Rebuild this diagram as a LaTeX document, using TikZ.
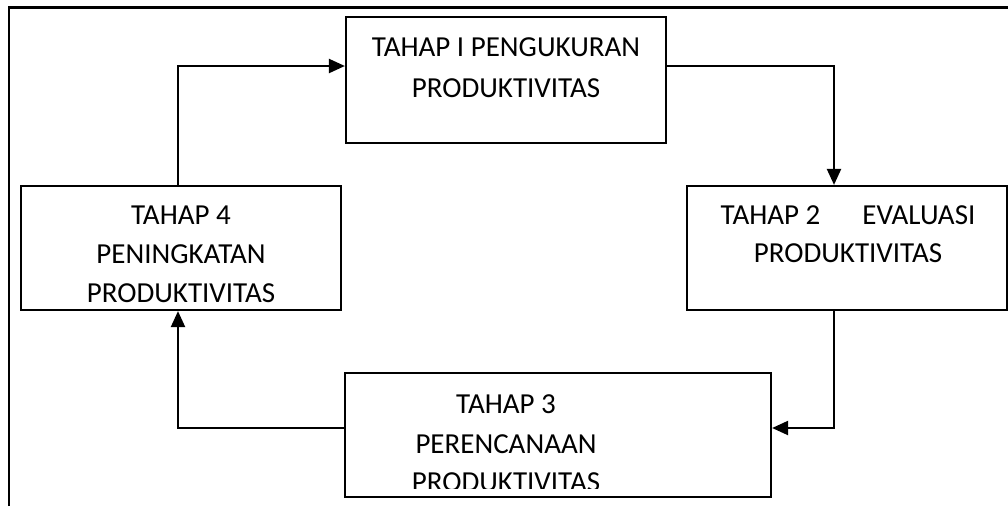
\documentclass[tikz,border=0pt]{standalone}
\usepackage{fontspec}
\setmainfont{Carlito}
\usetikzlibrary{arrows.meta}
\begin{document}
\begin{tikzpicture}[x=1pt,y=-1pt,
  stagebox/.style={draw=black,line width=2.2pt,fill=white},
  lbl/.style={font=\fontsize{29}{40}\selectfont,align=center,inner sep=0pt,anchor=base},
  conn/.style={draw=black,line width=2.2pt,-{Triangle[length=16pt,width=14pt]}},
  frame/.style={draw=black,line width=2.2pt}]
\useasboundingbox (0,0) rectangle (1008,506);
% frame
\draw[frame] (9,506) -- (9,7.5) -- (1008,7.5);
% boxes
\node[stagebox,minimum width=320pt,minimum height=126pt] (b1) at (506,80) {};
\node[stagebox,minimum width=320pt,minimum height=124pt] (b2) at (847,248) {};
\node[stagebox,minimum width=426pt,minimum height=124pt] (b3) at (558,435) {};
\node[stagebox,minimum width=320pt,minimum height=124pt] (b4) at (181,248) {};
% texts
\node[lbl] (t1a) at (506,56) {TAHAP I PENGUKURAN};
\node[lbl] (t1b) at (506,97) {PRODUKTIVITAS};
\node[lbl] (t2a) at (848,224) {TAHAP 2\hspace{42pt}EVALUASI};
\node[lbl] (t2b) at (848,262) {PRODUKTIVITAS};
\node[lbl] (t4a) at (181,224) {TAHAP 4};
\node[lbl] (t4b) at (181,263) {PENINGKATAN};
\node[lbl] (t4c) at (181,302) {PRODUKTIVITAS};
\node[lbl] (t3a) at (506,413) {TAHAP 3};
\node[lbl] (t3b) at (506,453) {PERENCANAAN};
\begin{scope}
\clip (346,440) rectangle (770,488);
\node[lbl] (t3c) at (506,491) {PRODUKTIVITAS};
\end{scope}
% connectors
\coordinate (c1) at (178,66);
\coordinate (c2) at (834,66);
\coordinate (c3) at (834,428);
\coordinate (c4) at (178,428);
\draw[conn] (b4.north -| c1) -- (c1) -- (c1 -| b1.west);
\draw[conn] (b1.east |- c2) -- (c2) -- (c2 |- b2.north);
\draw[conn] (b2.south -| c3) -- (c3) -- (c3 -| b3.east);
\draw[conn] (b3.west |- c4) -- (c4) -- (c4 |- b4.south);
\end{tikzpicture}
\end{document}
